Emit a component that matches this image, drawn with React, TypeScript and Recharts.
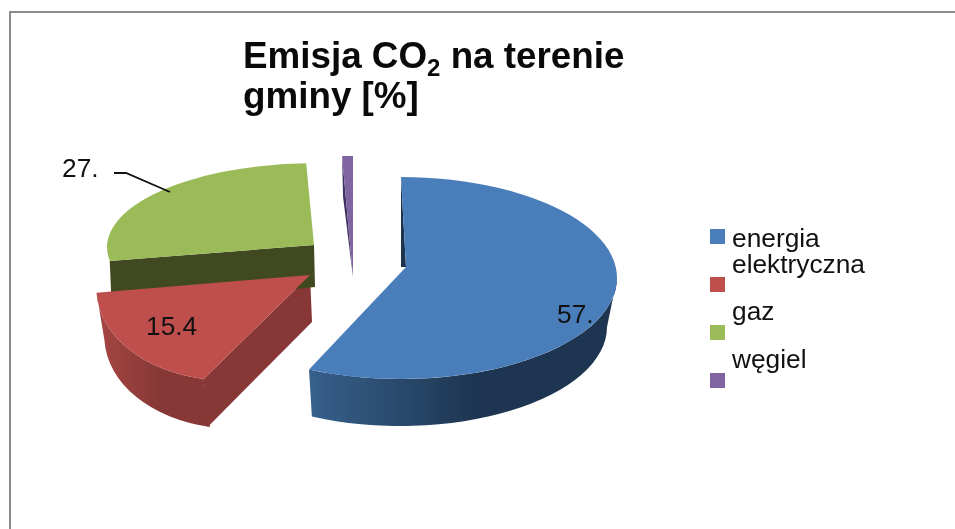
import React from "react";
import { PieChart, Pie, Legend } from "recharts";

// ---- data ----
const CATEGORIES = ["energia", "elektryczna", "gaz", "węgiel"];
const VALUES = [57, 15.4, 27, 0.6];
const VALUE_LABELS = ["57.", "15.4", "27.", ""];
const COLORS = ["#4a7ebb", "#be4f4c", "#9bbb59", "#8064a2"];

const chartData = CATEGORIES.map((name, i) => ({ name, value: VALUES[i], fill: COLORS[i] }));

// ---- 3D projection of each exploded slice (relative to the pie centre) ----
const CX = 350;
const CY = 270;
const R = 200;
type Geo = {
  ax: number; ay: number; // explode offset of the apex
  ox: number; oy: number; // ellipse centre relative to apex
  rx: number; ry: number; // ellipse radii, ratio of R
  bx: number; by: number; brx: number; bry: number; // lower rim
  arcRx?: number; arcRy?: number; // perspective-corrected rim curvature
  wall: boolean;
  wallFrom?: string; wallTo?: string;
  face?: { which: "start"; a: [number, number]; e: [number, number]; color: string };
};
const GEO: Geo[] = [
  {
    ax: 56, ay: -3, ox: -5, oy: 11, rx: 1.08, ry: 0.505,
    bx: -1, by: 49, brx: 1.035, bry: 0.495, wall: true, wallFrom: "#37608c", wallTo: "#1d3550",
    face: { which: "start", a: [-5, 0], e: [0, 0], color: "#1c3350" },
  },
  {
    ax: -40, ay: 5, ox: -25, oy: -1, rx: 0.955, ry: 0.58,
    bx: 5, by: 48, brx: 0.94, bry: 0.58, arcRx: 0.65, arcRy: 0.46, wall: true, wallFrom: "#a64644", wallTo: "#873836",
    face: { which: "start", a: [2, 47], e: [4, 48], color: "#873735" },
  },
  {
    ax: -36, ay: -25, ox: 0, oy: 2.3, rx: 1.035, ry: 0.42,
    bx: 0, by: 45, brx: 1.03, bry: 0.42, wall: false,
    face: { which: "start", a: [1, 42], e: [2, 47], color: "#40491f" },
  },
  {
    ax: 3, ay: 7, ox: 0, oy: 0, rx: 1.45, ry: 0.605,
    bx: 0, by: 0, brx: 1.45, bry: 0.605, wall: false,
    face: { which: "start", a: [0, 0], e: [1, 41], color: "#3f3160" },
  },
];

const LABEL_POS = [
  { dx: 207, dy: 53 },
  { dx: -204, dy: 65 },
  { dx: -288, dy: -93 },
];

const rad = (d: number) => (d * Math.PI) / 180;

function slicePrimitives(props: any) {
  const idx = CATEGORIES.indexOf(props.name ?? props.payload?.name);
  const g = GEO[idx];
  const a0fix = 90 - props.startAngle;
  const a1fix = 90 - props.endAngle;
  const from = Math.min(a0fix, a1fix);
  const to = Math.max(a0fix, a1fix);
  const apex = { x: props.cx + g.ax, y: props.cy + g.ay };
  const rx = props.outerRadius * g.rx;
  const ry = props.outerRadius * g.ry;
  const brx = props.outerRadius * g.brx;
  const bry = props.outerRadius * g.bry;
  const arcRx = g.arcRx ? props.outerRadius * g.arcRx : undefined;
  const arcRy = g.arcRy ? props.outerRadius * g.arcRy : undefined;
  const c = { x: apex.x + g.ox, y: apex.y + g.oy };
  const b = { x: c.x + g.bx, y: c.y + g.by };
  const top = (t: number) => ({ x: c.x + rx * Math.sin(rad(t)), y: c.y - ry * Math.cos(rad(t)) });
  const bot = (t: number) => ({ x: b.x + brx * Math.sin(rad(t)), y: b.y - bry * Math.cos(rad(t)) });
  return { idx, g, from, to, apex, rx, ry, brx, bry, arcRx, arcRy, top, bot };
}

function WallShape(props: any) {
  const { idx, g, from, to, apex, rx, ry, brx, bry, arcRx, arcRy, top, bot } = slicePrimitives(props);
  const out: React.ReactNode[] = [];
  if (g.wall) {
    const w0 = Math.max(from, 90);
    const w1 = Math.min(to, 270);
    const p0 = top(w0), p1 = top(w1), q0 = bot(w0), q1 = bot(w1);
    const id = `wall-${idx}`;
    out.push(
      <defs key="d">
        <linearGradient id={id} x1="1" y1="0" x2="0" y2="0">
          <stop offset="0" stopColor={g.wallTo} />
          <stop offset="0.45" stopColor={g.wallTo} />
          <stop offset="1" stopColor={g.wallFrom} />
        </linearGradient>
      </defs>,
      <path
        key="w"
        fill={`url(#${id})`}
        d={`M${p0.x},${p0.y} A${arcRx ?? rx},${arcRy ?? ry} 0 0 1 ${p1.x},${p1.y} L${q1.x},${q1.y} A${arcRx ?? brx},${arcRy ?? bry} 0 0 0 ${q0.x},${q0.y} Z`}
      />
    );
  }
  if (g.face) {
    const e = top(from);
    out.push(
      <polygon
        key="f"
        fill={g.face.color}
        points={`${e.x},${e.y} ${apex.x},${apex.y} ${apex.x + g.face.a[0]},${apex.y + g.face.a[1]} ${e.x + g.face.e[0]},${e.y + g.face.e[1]}`}
      />
    );
  }
  return <g>{out}</g>;
}

function TopShape(props: any) {
  const { from, to, apex, rx, ry, arcRx, arcRy, top } = slicePrimitives(props);
  const p0 = top(from), p1 = top(to);
  const large = to - from > 180 ? 1 : 0;
  return (
    <path
      fill={props.fill}
      d={`M${apex.x},${apex.y} L${p0.x},${p0.y} A${arcRx ?? rx},${arcRy ?? ry} 0 ${large} 1 ${p1.x},${p1.y} Z`}
    />
  );
}

function renderLabel(props: any) {
  const i = CATEGORIES.indexOf(props.name ?? props.payload?.name);
  const text = VALUE_LABELS[i];
  if (!text) return null;
  const pos = LABEL_POS[i];
  const x = props.cx + pos.dx;
  const y = props.cy + pos.dy;
  return (
    <g>
      <text x={x} y={y} fontFamily="Liberation Sans" fontSize={26.3} fill="#111">
        {text}
      </text>
      {text === "27." ? (
        <polyline
          points={`${x + 52},${y - 4} ${x + 64},${y - 4} ${x + 108},${y + 15}`}
          fill="none"
          stroke="#111"
          strokeWidth={1.8}
        />
      ) : null}
    </g>
  );
}

const LEGEND_BASELINE = [247, 273, 320, 368];

function renderLegend() {
  return (
    <div style={{ position: "relative", width: 200, height: 180 }}>
      {CATEGORIES.map((name, i) => (
        <React.Fragment key={name}>
          <div
            style={{
              position: "absolute",
              left: 0,
              top: 48 * i,
              width: 15,
              height: 15,
              background: COLORS[i],
            }}
          />
          <div
            style={{
              position: "absolute",
              left: 22,
              top: LEGEND_BASELINE[i] - 229 - 22,
              fontFamily: "Liberation Sans",
              fontSize: 26.3,
              lineHeight: "26px",
              color: "#111",
              whiteSpace: "nowrap",
            }}
          >
            {name}
          </div>
        </React.Fragment>
      ))}
    </div>
  );
}

export default function App() {
  return (
    <div style={{ position: "absolute", left: 0, top: 0, width: 955, height: 529, background: "#fff", overflow: "hidden" }}>
      <div style={{ position: "absolute", left: 9, top: 11, right: 0, height: 2, background: "#8c8c8c" }} />
      <div style={{ position: "absolute", left: 9, top: 11, bottom: 0, width: 2, background: "#8c8c8c" }} />
      <div style={{ position: "absolute", left: 0, top: 0, filter: "blur(0.5px)" }}>
        <PieChart
          width={955}
          height={529}
          margin={{ top: 0, right: 0, bottom: 0, left: 0 }}
        >
          <text fontFamily="Liberation Sans" fontWeight="bold" fontSize={36.8} fill="#0a0a0a">
            <tspan x={243} y={68}>Emisja CO</tspan>
            <tspan fontSize={24} dy={8}>2</tspan>
            <tspan fontSize={36.8} dy={-8}> na terenie</tspan>
            <tspan x={243} y={108}>gminy [%]</tspan>
          </text>
          <Pie
            data={chartData}
            dataKey="value"
            nameKey="name"
            cx={CX}
            cy={CY}
            outerRadius={R}
            startAngle={90}
            endAngle={-270}
            stroke="none"
            isAnimationActive={false}
            legendType="none"
            shape={WallShape}
          />
          <Pie
            data={chartData}
            dataKey="value"
            nameKey="name"
            cx={CX}
            cy={CY}
            outerRadius={R}
            startAngle={90}
            endAngle={-270}
            stroke="none"
            isAnimationActive={false}
            shape={TopShape}
            label={renderLabel}
            labelLine={false}
          />
          <Legend
            layout="vertical"
            align="right"
            verticalAlign="top"
            content={renderLegend}
            wrapperStyle={{ position: "absolute", left: 710, top: 229, width: 200, height: 180 }}
          />
        </PieChart>
      </div>
    </div>
  );
}
